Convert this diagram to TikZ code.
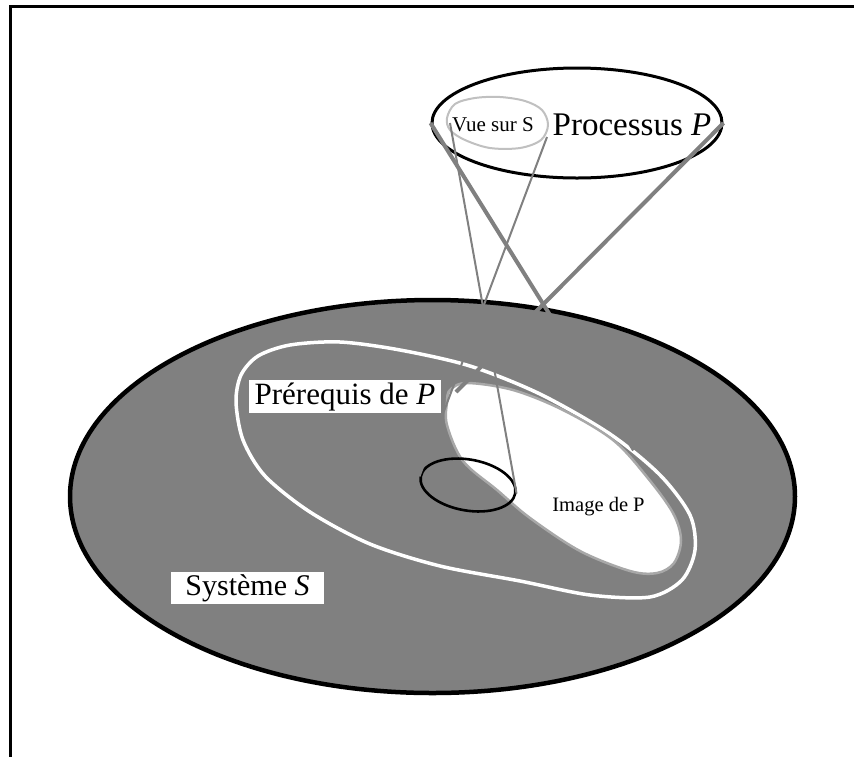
\documentclass[tikz,border=0pt]{standalone}
\usepackage{fontspec}
\setmainfont{Liberation Serif}
\usetikzlibrary{shapes.geometric}
\definecolor{sysgray}{RGB}{128,128,128}
\definecolor{viewgray}{RGB}{192,192,192}
\definecolor{imggray}{RGB}{168,168,168}
\begin{document}
\begin{tikzpicture}[x=1pt,y=-1pt,
  framestyle/.style={line width=3, line join=miter},
  sysshape/.style={ellipse, draw=black, fill=sysgray, line width=4.5, inner sep=0},
  procshape/.style={ellipse, draw=black, fill=white, line width=3, inner sep=0},
  coreshape/.style={ellipse, draw=black, line width=2.6, inner sep=0},
  thickproj/.style={draw=sysgray, line width=4},
  thinproj/.style={draw=sysgray, line width=2},
  labelbox/.style={fill=white, inner sep=0, align=center},
  plain/.style={inner sep=0, anchor=base}
]
\useasboundingbox (0,0) rectangle (854,756);

% frame (only top and left edges are inside the picture)
\coordinate (fbl) at (10.5,770);
\coordinate (ftl) at (10.5,6);
\coordinate (ftr) at (870,6);
\draw[framestyle] (fbl) -- (ftl) -- (ftr);

% system S
\node[sysshape, minimum width=725, minimum height=393] (sys) at (432.5,496.5) {};

% prerequisites outline
\draw[white, line width=3.5] plot[smooth cycle, tension=0.5] coordinates {
 (236,402) (241,375) (258,356) (290,345) (340,342) (400,350) (470,366)
 (540,394) (610,434) (660,475) (690,515) (695,550) (682,580) (650,597)
 (590,595) (520,581) (440,566) (370,544) (310,512) (265,476) (243,440)};

% image of P
\filldraw[imggray, fill=white, line width=2.5] plot[smooth cycle, tension=0.55] coordinates {
 (447,402) (450,390) (467,383) (513,390) (563,410) (613,440) (647,477)
 (673,513) (681,540) (674,563) (657,573) (630,571) (580,551) (530,518)
 (497,490) (463,461) (447,425)};

% small black ellipse (the view)
\node[coreshape, minimum width=96, minimum height=51, rotate=-10] (core) at (468,485) {};

% process P
\node[procshape, minimum width=290, minimum height=110] (proc) at (577,123) {};

% view on S blob
\draw[viewgray, line width=2] plot[smooth cycle, tension=0.55] coordinates {
 (447,118) (455,104) (475,98) (500,97) (525,101) (542,110) (548,125)
 (541,140) (520,148) (490,148) (465,140) (450,130)};

% projection end points
\coordinate (vl) at (450,123);
\coordinate (vr) at (547,137);
\coordinate (imgA) at (456,392);
\coordinate (imgB) at (634,450);

% projection lines
\draw[thickproj] (proc.west) -- (imgB);
\draw[thickproj] (proc.east) -- (imgA);
\draw[thinproj] (vl) -- (core.east);
\draw[thinproj] (vr) -- (core.west);

% labels
\node[plain, font=\fontsize{21}{25}\selectfont] (vue) at (493,131.5) {Vue sur S};
\node[plain, font=\fontsize{33}{38}\selectfont] (proct) at (632,135) {Processus \textit{P}};
\node[labelbox, font=\fontsize{31}{36}\selectfont, minimum width=192, text height=24, text depth=9] (prq) at (345,396.5) {Prérequis de \textit{P}};
\node[labelbox, font=\fontsize{30}{35}\selectfont, minimum width=153, text height=23, text depth=9] (sysl) at (247.5,588) {Système \textit{S}};
\node[plain, font=\fontsize{20.5}{24}\selectfont] (imgl) at (598.5,511.7) {Image de P};
\end{tikzpicture}
\end{document}
